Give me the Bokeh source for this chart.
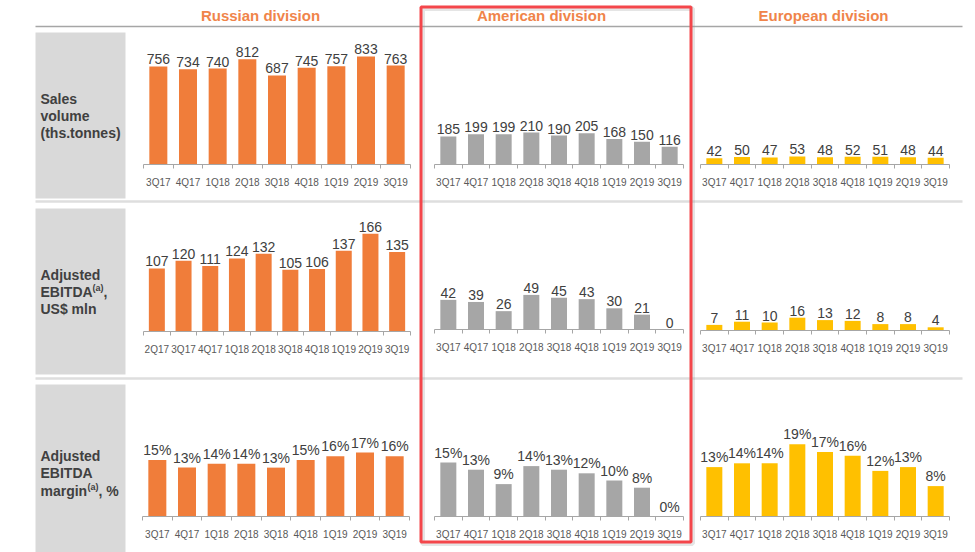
import numpy as np
from bokeh.plotting import figure
from bokeh.models import Range1d, LinearAxis, FixedTicker
from bokeh.core.properties import value
from bokeh.embed import file_html
from bokeh.resources import INLINE

# ---------------- data ----------------
quarters = ["3Q17", "4Q17", "1Q18", "2Q18", "3Q18", "4Q18", "1Q19", "2Q19", "3Q19"]
quarters_ru_ebitda = ["2Q17", "3Q17", "4Q17", "1Q18", "2Q18", "3Q18", "4Q18", "1Q19", "2Q19", "3Q19"]

divisions = ["Russian division", "American division", "European division"]

ru_sales = [756, 734, 740, 812, 687, 745, 757, 833, 763]
am_sales = [185, 199, 199, 210, 190, 205, 168, 150, 116]
eu_sales = [42, 50, 47, 53, 48, 52, 51, 48, 44]

ru_ebitda = [107, 120, 111, 124, 132, 105, 106, 137, 166, 135]
am_ebitda = [42, 39, 26, 49, 45, 43, 30, 21, 0]
eu_ebitda = [7, 11, 10, 16, 13, 12, 8, 8, 4]

ru_margin = [15, 13, 14, 14, 13, 15, 16, 17, 16]
am_margin = [15, 13, 9, 14, 13, 12, 10, 8, 0]
eu_margin = [13, 14, 14, 19, 17, 16, 12, 13, 8]

# ---------------- style / layout ----------------
FONT = "Liberation Sans"
ORANGE = "#F07D3A"
GRAY = "#A6A6A6"
YELLOW = "#FFC000"
HEAD = "#F0844A"
DARK = "#404040"

W, H = 975, 552
X0, Y0 = 0, 0

p = figure(width=W, height=H, x_range=Range1d(X0, X0 + W), y_range=Range1d(Y0 + H, Y0),
           x_axis_type=None, y_axis_type=None, min_border=0, outline_line_color=None,
           toolbar_location=None, output_backend="svg",
           background_fill_color="white", border_fill_color="white")
p.min_border_left = p.min_border_right = p.min_border_top = p.min_border_bottom = 0

# gray label boxes
p.quad(left=[35, 35, 35], right=[125, 125, 125], top=[32, 208, 384], bottom=[198, 374, 560],
       fill_color="#D9D9D9", line_color=None)
# header rule and row separators
p.line([35, 962], [26, 26], line_color="#A6A6A6", line_width=1.3)
p.multi_line([[35, 962], [35, 962]], [[201, 201], [378, 378]], line_color="#DEDEDE", line_width=2.5)

# headers
p.text(x=[260, 541, 823], y=[15, 15, 15], text=divisions,
       text_font=value(FONT), text_font_size=value("15px"), text_font_style="bold",
       text_color=HEAD, text_align="center", text_baseline="middle")

# row labels
lab_kw = dict(text_font=value(FONT), text_font_size=value("14px"), text_font_style="bold",
              text_color=DARK, text_align="left", text_baseline="middle")
p.text(x=[40] * 9,
       y=[98, 115.5, 132.5, 274, 291, 308, 455, 472.5, 490],
       text=["Sales", "volume", "(ths.tonnes)", "Adjusted", "EBITDA", "US$ mln",
             "Adjusted", "EBITDA", "margin"], **lab_kw)
p.text(x=[92, 87], y=[287, 486], text=["(a)", "(a)"],
       text_font=value(FONT), text_font_size=value("9px"), text_font_style="bold",
       text_color=DARK, text_align="left", text_baseline="middle")
p.text(x=[103, 98], y=[291, 490], text=[",", ", %"], **lab_kw)

# ---------------- panels ----------------
panels = [
    ("ru1", quarters, ru_sales, ORANGE, 143, 410, 164, 0.1297, "", 18),
    ("am1", quarters, am_sales, GRAY, 434, 683, 164, 0.152, "", 16),
    ("eu1", quarters, eu_sales, YELLOW, 700, 949, 164, 0.151, "", 16),
    ("ru2", quarters_ru_ebitda, ru_ebitda, ORANGE, 143, 410, 331, 0.589, "", 16),
    ("am2", quarters, am_ebitda, GRAY, 434, 683, 329, 0.706, "", 16),
    ("eu2", quarters, eu_ebitda, YELLOW, 700, 949, 330, 0.8, "", 16),
    ("ru3", quarters, ru_margin, ORANGE, 142, 409, 516, 3.76, "%", 18),
    ("am3", quarters, am_margin, GRAY, 434, 683, 516, 3.6, "%", 16),
    ("eu3", quarters, eu_margin, YELLOW, 700, 949, 516, 3.8, "%", 16),
]

for key, cats, vals, color, left, right, base, ky, suffix, bar_px in panels:
    n = len(cats)
    kx = (right - left) / n
    xn, yn = "x_" + key, "y_" + key
    p.extra_x_ranges[xn] = Range1d(-0.5 - (left - X0) / kx, n - 0.5 + (X0 + W - right) / kx)
    p.extra_y_ranges[yn] = Range1d(-(Y0 + H - base) / ky, (base - Y0) / ky)
    idx = list(range(n))
    p.vbar(x=idx, top=vals, bottom=0, width=bar_px / kx, fill_color=color, line_color=None,
           x_range_name=xn, y_range_name=yn)
    p.text(x=idx, y=vals, text=[f"{v}{suffix}" for v in vals], x_range_name=xn, y_range_name=yn,
           text_font=value(FONT), text_font_size=value("14px"), text_color=DARK,
           text_align="center", text_baseline="bottom", y_offset=-2)
    ax = LinearAxis(x_range_name=xn, y_range_name=yn, fixed_location=0, bounds=(-0.5, n - 0.5),
                    ticker=FixedTicker(ticks=idx, minor_ticks=[i - 0.5 for i in range(n + 1)]),
                    major_label_overrides={i: c for i, c in enumerate(cats)},
                    axis_line_color="#A6A6A6", axis_line_width=1,
                    major_tick_line_color=None, major_tick_out=0, major_tick_in=0,
                    minor_tick_line_color="#A6A6A6", minor_tick_out=4, minor_tick_in=0,
                    major_label_text_font=FONT, major_label_text_font_size="10px",
                    major_label_text_color="#595959", major_label_standoff=8)
    p.add_layout(ax, "below")

# highlight frame around the American division
p.quad(left=[422], right=[692], top=[8], bottom=[543], fill_color=None,
       line_color="#999999", line_alpha=0.25, line_width=5)
p.quad(left=[420.5], right=[690.5], top=[6.5], bottom=[541.5], fill_color=None,
       line_color="#F4464B", line_width=3)

open("out.html", "w").write(file_html(p, INLINE))
